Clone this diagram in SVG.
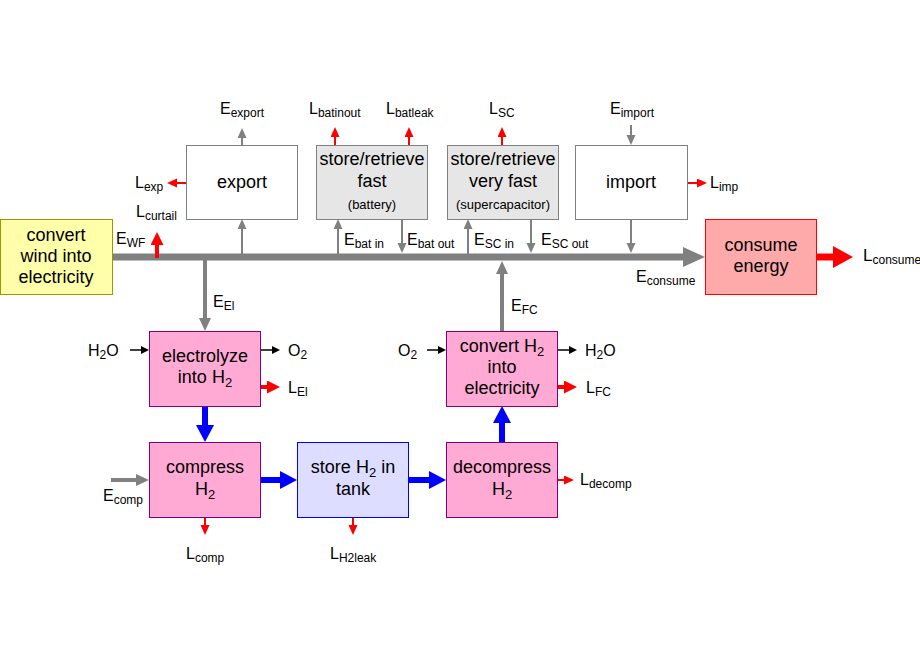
<svg xmlns="http://www.w3.org/2000/svg" width="920" height="660" viewBox="0 0 920 660">
<style>
text{font-family:"Liberation Sans",Arial,sans-serif;fill:#000}
.bt{font-size:18px;text-anchor:middle}
.sm{font-size:13px}
.lb{font-size:16px}
.sb{font-size:12px}
.g2{stroke:#808080;stroke-width:2;fill:none}
.g4{stroke:#808080;stroke-width:4;fill:none}
.r2{stroke:#ff0000;stroke-width:2;fill:none}
.r4{stroke:#ff0000;stroke-width:4;fill:none}
.k2{stroke:#000;stroke-width:1.5;fill:none}
.b6{stroke:#0000ff;stroke-width:6;fill:none}
</style>
<defs>
<marker id="ag" markerUnits="userSpaceOnUse" markerWidth="11" markerHeight="10" refX="0" refY="4.5" orient="auto"><path d="M0,0 L10,4.5 L0,9 Z" fill="#808080"/></marker>
<marker id="agL" markerUnits="userSpaceOnUse" markerWidth="14" markerHeight="13" refX="0" refY="6" orient="auto"><path d="M0,0 L13,6 L0,12 Z" fill="#808080"/></marker>
<marker id="ar" markerUnits="userSpaceOnUse" markerWidth="11" markerHeight="10" refX="0" refY="4.5" orient="auto"><path d="M0,0 L10,4.5 L0,9 Z" fill="#ff0000"/></marker>
<marker id="arL" markerUnits="userSpaceOnUse" markerWidth="14" markerHeight="13" refX="0" refY="6.5" orient="auto"><path d="M0,0 L13,6.5 L0,13 Z" fill="#ff0000"/></marker>
<marker id="ak" markerUnits="userSpaceOnUse" markerWidth="9" markerHeight="9" refX="0" refY="4" orient="auto"><path d="M0,0 L8,4 L0,8 Z" fill="#000"/></marker>
<marker id="ab" markerUnits="userSpaceOnUse" markerWidth="18" markerHeight="19" refX="0" refY="9" orient="auto"><path d="M0,0 L17,9 L0,18 Z" fill="#0000ff"/></marker>
</defs>

<g id="connectors">
<!-- main bus -->
<line x1="113" y1="257" x2="684" y2="257" stroke="#808080" stroke-width="7"/>
<polygon points="683,247 705,257 683,267" fill="#808080"/>
<!-- consume loss -->
<line x1="817" y1="257" x2="834" y2="257" stroke="#ff0000" stroke-width="7"/>
<polygon points="833,246 853,257 833,268" fill="#ff0000"/>
<!-- curtail -->
<line class="r4" x1="157" y1="258" x2="157" y2="245" marker-end="url(#arL)"/>
<!-- export -->
<line class="g2" x1="242" y1="257" x2="242" y2="229" marker-end="url(#ag)"/>
<line class="g2" x1="242" y1="145" x2="242" y2="138" marker-end="url(#ag)"/>
<line class="r2" x1="186" y1="183" x2="177" y2="183" marker-end="url(#ar)"/>
<!-- battery -->
<line class="g2" x1="338" y1="257" x2="338" y2="229" marker-end="url(#ag)"/>
<line class="g2" x1="402" y1="219" x2="402" y2="243" marker-end="url(#ag)"/>
<line class="r2" x1="335" y1="145" x2="335" y2="137" marker-end="url(#ar)"/>
<line class="r2" x1="409" y1="145" x2="409" y2="137" marker-end="url(#ar)"/>
<!-- supercap -->
<line class="g2" x1="468" y1="257" x2="468" y2="229" marker-end="url(#ag)"/>
<line class="g2" x1="531" y1="219" x2="531" y2="243" marker-end="url(#ag)"/>
<line class="r2" x1="502" y1="145" x2="502" y2="137" marker-end="url(#ar)"/>
<!-- import -->
<line class="g2" x1="631" y1="125" x2="631" y2="135" marker-end="url(#ag)"/>
<line class="g2" x1="631" y1="219" x2="631" y2="243" marker-end="url(#ag)"/>
<line class="r2" x1="688" y1="183" x2="697" y2="183" marker-end="url(#ar)"/>
<!-- electrolyzer -->
<line class="g4" x1="205" y1="257" x2="205" y2="318" marker-end="url(#agL)"/>
<line class="k2" x1="130" y1="350" x2="141" y2="350" marker-end="url(#ak)"/>
<line class="k2" x1="261" y1="350" x2="272" y2="350" marker-end="url(#ak)"/>
<line class="r4" x1="261" y1="387" x2="267" y2="387" marker-end="url(#arL)"/>
<!-- fuel cell -->
<line class="g4" x1="502" y1="331" x2="502" y2="274" marker-end="url(#agL)"/>
<line class="k2" x1="427" y1="350" x2="438" y2="350" marker-end="url(#ak)"/>
<line class="k2" x1="558" y1="350" x2="569" y2="350" marker-end="url(#ak)"/>
<line class="r4" x1="558" y1="387" x2="564" y2="387" marker-end="url(#arL)"/>
<!-- hydrogen flow -->
<line class="b6" x1="205" y1="406" x2="205" y2="425" marker-end="url(#ab)"/>
<line class="b6" x1="261" y1="480" x2="280" y2="480" marker-end="url(#ab)"/>
<line class="b6" x1="409" y1="480" x2="429" y2="480" marker-end="url(#ab)"/>
<line class="b6" x1="502" y1="442" x2="502" y2="423" marker-end="url(#ab)"/>
<!-- compress / tank / decompress -->
<line class="g4" x1="111" y1="480" x2="136" y2="480" marker-end="url(#agL)"/>
<line class="r2" x1="205" y1="517" x2="205" y2="525" marker-end="url(#ar)"/>
<line class="r2" x1="353" y1="517" x2="353" y2="525" marker-end="url(#ar)"/>
<line class="r2" x1="558" y1="480" x2="564" y2="480" marker-end="url(#ar)"/>
</g>

<g id="labels">
<text class="lb" x="220" y="114">E<tspan class="sb" dy="3">export</tspan></text>
<text class="lb" x="135" y="188">L<tspan class="sb" dy="3">exp</tspan></text>
<text class="lb" x="136" y="217">L<tspan class="sb" dy="3">curtail</tspan></text>
<text class="lb" x="116" y="244">E<tspan class="sb" dy="3">WF</tspan></text>
<text class="lb" x="309" y="114">L<tspan class="sb" dy="3">batinout</tspan></text>
<text class="lb" x="386" y="114">L<tspan class="sb" dy="3">batleak</tspan></text>
<text class="lb" x="489" y="114">L<tspan class="sb" dy="3">SC</tspan></text>
<text class="lb" x="610" y="114">E<tspan class="sb" dy="3">import</tspan></text>
<text class="lb" x="710" y="188">L<tspan class="sb" dy="3">imp</tspan></text>
<text class="lb" x="344" y="245">E<tspan class="sb" dy="3">bat in</tspan></text>
<text class="lb" x="407" y="245">E<tspan class="sb" dy="3">bat out</tspan></text>
<text class="lb" x="474" y="245">E<tspan class="sb" dy="3">SC in</tspan></text>
<text class="lb" x="541" y="245">E<tspan class="sb" dy="3">SC out</tspan></text>
<text class="lb" x="636" y="282">E<tspan class="sb" dy="3">consume</tspan></text>
<text class="lb" x="863" y="261" style="font-size:17px">L<tspan class="sb" dy="3">consume</tspan></text>
<text class="lb" x="213" y="307">E<tspan class="sb" dy="3">El</tspan></text>
<text class="lb" x="511" y="311">E<tspan class="sb" dy="3">FC</tspan></text>
<text class="lb" x="88" y="356">H<tspan class="sb" dy="3">2</tspan><tspan dy="-3">O</tspan></text>
<text class="lb" x="288" y="356">O<tspan class="sb" dy="3">2</tspan></text>
<text class="lb" x="288" y="393">L<tspan class="sb" dy="3">El</tspan></text>
<text class="lb" x="398" y="356">O<tspan class="sb" dy="3">2</tspan></text>
<text class="lb" x="585" y="356">H<tspan class="sb" dy="3">2</tspan><tspan dy="-3">O</tspan></text>
<text class="lb" x="586" y="393">L<tspan class="sb" dy="3">FC</tspan></text>
<text class="lb" x="103" y="501">E<tspan class="sb" dy="3">comp</tspan></text>
<text class="lb" x="580" y="485">L<tspan class="sb" dy="3">decomp</tspan></text>
<text class="lb" x="186" y="559">L<tspan class="sb" dy="3">comp</tspan></text>
<text class="lb" x="330" y="559">L<tspan class="sb" dy="3">H2leak</tspan></text>
</g>

<g id="wind">
<rect x="0.5" y="219.5" width="112" height="75" fill="#ffffaa" stroke="#999900"/>
<text class="bt" x="56" y="241">convert</text>
<text class="bt" x="56" y="262">wind into</text>
<text class="bt" x="56" y="283">electricity</text>
</g>
<g id="export">
<rect x="186.5" y="145.5" width="111" height="74" fill="#fff" stroke="#808080"/>
<text class="bt" x="242" y="188">export</text>
</g>
<g id="battery">
<rect x="316.5" y="145.5" width="111" height="74" fill="#e6e6e6" stroke="#808080"/>
<text class="bt" x="372" y="165">store/retrieve</text>
<text class="bt" x="372" y="187">fast</text>
<text class="bt sm" x="372" y="209">(battery)</text>
</g>
<g id="supercap">
<rect x="447.5" y="145.5" width="111" height="74" fill="#e6e6e6" stroke="#808080"/>
<text class="bt" x="503" y="165">store/retrieve</text>
<text class="bt" x="503" y="187">very fast</text>
<text class="bt sm" x="503" y="209">(supercapacitor)</text>
</g>
<g id="import">
<rect x="575.5" y="145.5" width="112" height="74" fill="#fff" stroke="#808080"/>
<text class="bt" x="631" y="188">import</text>
</g>
<g id="consume">
<rect x="705.5" y="219.5" width="111" height="75" fill="#ffaaaa" stroke="#ff0000"/>
<text class="bt" x="761" y="251">consume</text>
<text class="bt" x="761" y="272">energy</text>
</g>
<g id="electrolyze">
<rect x="149.5" y="331.5" width="111" height="75" fill="#ffaad4" stroke="#800080"/>
<text class="bt" x="205" y="362">electrolyze</text>
<text class="bt" x="205" y="383">into H<tspan class="sm" dy="4">2</tspan></text>
</g>
<g id="compress">
<rect x="149.5" y="442.5" width="111" height="75" fill="#ffaad4" stroke="#800080"/>
<text class="bt" x="205" y="473">compress</text>
<text class="bt" x="205" y="495">H<tspan class="sm" dy="4">2</tspan></text>
</g>
<g id="tank">
<rect x="297.5" y="442.5" width="111" height="75" fill="#ddddff" stroke="#0000ff"/>
<text class="bt" x="353" y="473">store H<tspan class="sm" dy="4">2</tspan><tspan dy="-4"> in</tspan></text>
<text class="bt" x="353" y="495">tank</text>
</g>
<g id="decompress">
<rect x="446.5" y="442.5" width="111" height="75" fill="#ffaad4" stroke="#800080"/>
<text class="bt" x="502" y="473">decompress</text>
<text class="bt" x="502" y="495">H<tspan class="sm" dy="4">2</tspan></text>
</g>
<g id="fuelcell">
<rect x="446.5" y="331.5" width="111" height="75" fill="#ffaad4" stroke="#800080"/>
<text class="bt" x="502" y="352">convert H<tspan class="sm" dy="4">2</tspan></text>
<text class="bt" x="502" y="373">into</text>
<text class="bt" x="502" y="394">electricity</text>
</g>
</svg>
